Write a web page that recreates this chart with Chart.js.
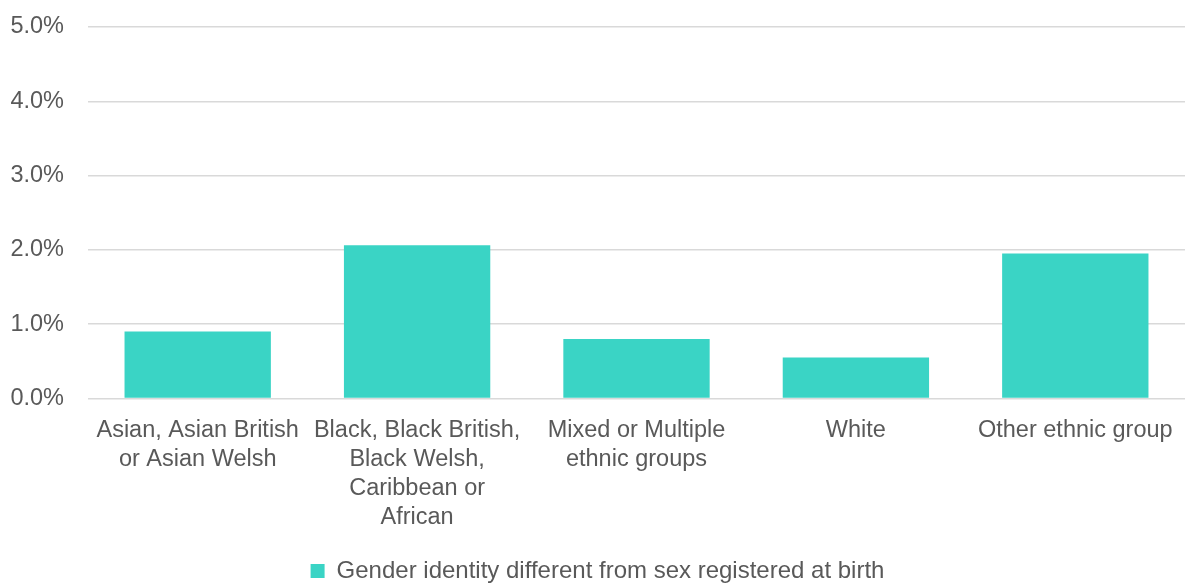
<!DOCTYPE html>
<html>
<head>
<meta charset="utf-8">
<script src="https://cdn.jsdelivr.net/npm/chart.js@4/dist/chart.umd.min.js"></script>
<style>
  html, body { margin: 0; padding: 0; background: #ffffff; }
  #wrap { width: 1187px; height: 583px; position: relative; }
</style>
</head>
<body>
<div id="wrap"><canvas id="c"></canvas></div>
<script>
const categories = [
  ["Asian, Asian British", "or Asian Welsh"],
  ["Black, Black British,", "Black Welsh,", "Caribbean or", "African"],
  ["Mixed or Multiple", "ethnic groups"],
  ["White"],
  ["Other ethnic group"]
];
const seriesName = "Gender identity different from sex registered at birth";
const seriesValues = [0.9, 2.06, 0.8, 0.55, 1.95];
const yTicks = [0, 1, 2, 3, 4, 5];

const textColor = "#595959";
const fontFamily = "'Liberation Sans', Arial, sans-serif";

new Chart(document.getElementById("c"), {
  type: "bar",
  data: {
    labels: categories,
    datasets: [{
      label: seriesName,
      data: seriesValues,
      backgroundColor: "#3ad4c5",
      borderWidth: 0,
      barPercentage: 0.667,
      categoryPercentage: 1.0
    }]
  },
  options: {
    responsive: true,
    maintainAspectRatio: false,
    animation: false,
    layout: { padding: { top: 27, right: 2, left: 10, bottom: -10 } },
    plugins: {
      legend: {
        position: "bottom",
        labels: {
          color: textColor,
          font: { family: fontFamily, size: 24 },
          boxWidth: 14,
          boxHeight: 14,
          padding: 9
        }
      },
      tooltip: { enabled: false }
    },
    scales: {
      x: {
        grid: { display: false, drawTicks: false },
        border: { display: false },
        ticks: {
          color: textColor,
          font: { family: fontFamily, size: 23.5, lineHeight: 1.23 },
          padding: 18,
          maxRotation: 0,
          autoSkip: false
        },
        afterFit: (axis) => { axis.paddingLeft = 0; axis.paddingRight = 0; }
      },
      y: {
        min: 0,
        max: 5,
        afterBuildTicks: (axis) => { axis.ticks = yTicks.map(v => ({ value: v })); },
        grid: { color: "#d9d9d9", lineWidth: 1.5, drawTicks: false },
        border: { display: false },
        ticks: {
          color: textColor,
          font: { family: fontFamily, size: 23.5 },
          padding: 24,
          callback: (v) => v.toFixed(1) + "%"
        },
        afterFit: (axis) => { axis.width = 78; axis.paddingTop = 0; axis.paddingBottom = 0; }
      }
    }
  }
});
</script>
</body>
</html>
